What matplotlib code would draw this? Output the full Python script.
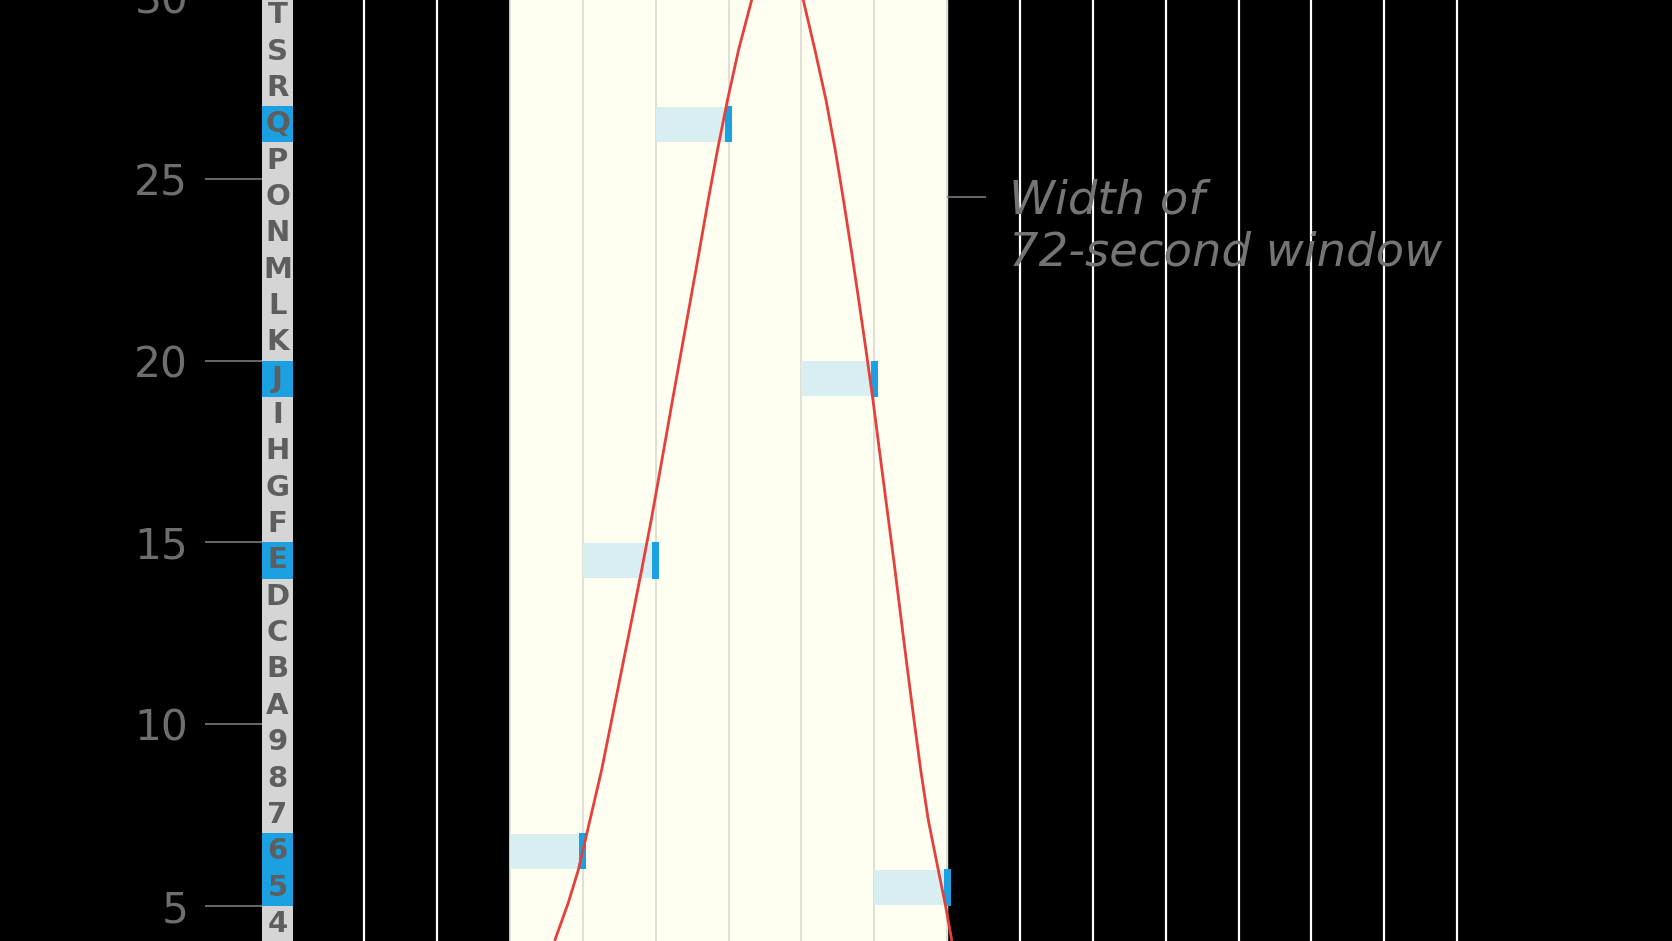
import matplotlib
matplotlib.use("Agg")
import matplotlib.pyplot as plt

# rows of the code column (value -> symbol), highlighted rows
row_values = list(range(4, 30))
row_symbols = list("456789ABCDEFGHIJKLMNOPQRST")
highlighted = [5, 6, 14, 19, 26]

# sampled windows: start second and quantized row
sample_starts = [0, 12, 24, 48, 60]
sample_rows = [6, 14, 26, 19, 5]
window_step = 12

# red signal curve (seconds, value)
curve_t = [7.41, 9.60, 11.25, 13.18, 15.10, 16.75, 18.40, 20.05, 21.69, 23.26,
           24.74, 26.77, 28.25, 29.73, 31.21, 32.66, 34.18, 35.83, 37.64, 39.81,
           41.0, 42.5, 44.0, 45.5, 47.0,
           48.31, 50.24, 52.05, 53.58, 54.93, 56.22, 57.45, 58.64, 59.79, 61.27,
           62.35, 63.42, 64.45, 65.48, 66.55, 67.65, 68.90, 70.55, 71.65, 72.76]
curve_v = [4.06, 5.08, 5.98, 7.36, 8.74, 10.11, 11.49, 12.86, 14.24, 15.61,
           16.99, 18.91, 20.29, 21.66, 23.04, 24.42, 25.79, 27.17, 28.54, 29.92,
           30.56, 31.05, 31.18, 30.95, 30.37,
           29.92, 28.54, 27.17, 25.79, 24.42, 23.04, 21.66, 20.29, 18.91, 16.99,
           15.61, 14.24, 12.86, 11.49, 10.11, 8.74, 7.36, 5.98, 5.08, 4.06]

y_ticks = [5, 10, 15, 20, 25, 30]
grid_times = [12 * k for k in range(-2, 14)]
window = (0, 72)

BLACK = "#000000"
CREAM = "#fefef1"
GREY_TXT = "#6e6e6e"
BOX_GREY = "#d5d5d5"
BLUE = "#1ba1e2"
PALE_BLUE = "#d9eef1"
RED = "#e5403b"

fig = plt.figure(figsize=(16.72, 9.41), dpi=100, facecolor=BLACK)
ax = fig.add_axes([0, 0, 1, 1], facecolor=BLACK)
ax.set_xlim(-84.0, 191.4)
ax.set_ylim(4.03, 29.92)
ax.axis("off")

# window shading and grid
ax.axvspan(window[0], window[1], color=CREAM, zorder=0)
for t in grid_times:
    inside = window[0] <= t <= window[1]
    ax.axvline(t, color="#dcdcd2" if inside else "#ffffff",
               lw=1.3 if inside else 1.6, zorder=1)

# code column
col_left, col_w = -40.85, 5.1
colors = [BLUE if v in highlighted else BOX_GREY for v in row_values]
ax.barh([v + 0.5 for v in row_values], col_w, left=col_left, height=1.0,
        color=colors, zorder=2)
for v, s in zip(row_values, row_symbols):
    ax.text(col_left + col_w / 2, v + 0.5, s, ha="center", va="center",
            fontsize=21, fontweight="bold", color="#5e5e5e", zorder=3)

# y ticks and labels
ax.hlines(y_ticks, -50.2, col_left, color="#7a7a7a", lw=1.2, zorder=2)
for v in y_ticks:
    ax.text(-53.0, v, str(v), ha="right", va="center_baseline",
            fontsize=30.5, color=GREY_TXT, zorder=3)

# sampled windows
ax.barh([r + 0.5 for r in sample_rows], window_step, left=sample_starts,
        height=0.97, color=PALE_BLUE, zorder=2)
mark_w = 1.15
ax.barh([r + 0.5 for r in sample_rows], mark_w,
        left=[s + window_step - mark_w / 2 for s in sample_starts],
        height=1.0, color=BLUE, zorder=4)

# signal
ax.plot(curve_t, curve_v, color=RED, lw=2.0, zorder=5,
        solid_capstyle="round", solid_joinstyle="round")

# annotation
ax.hlines(24.5, window[1], 78.4, color="#7a7a7a", lw=1.2, zorder=3)
ax.text(82.2, 25.0, "Width of\n72-second window", ha="left", va="top",
        fontsize=33.5, style="italic", color="#747474", linespacing=1.2,
        zorder=6)

fig.savefig("out.png", dpi=100, facecolor=BLACK)
